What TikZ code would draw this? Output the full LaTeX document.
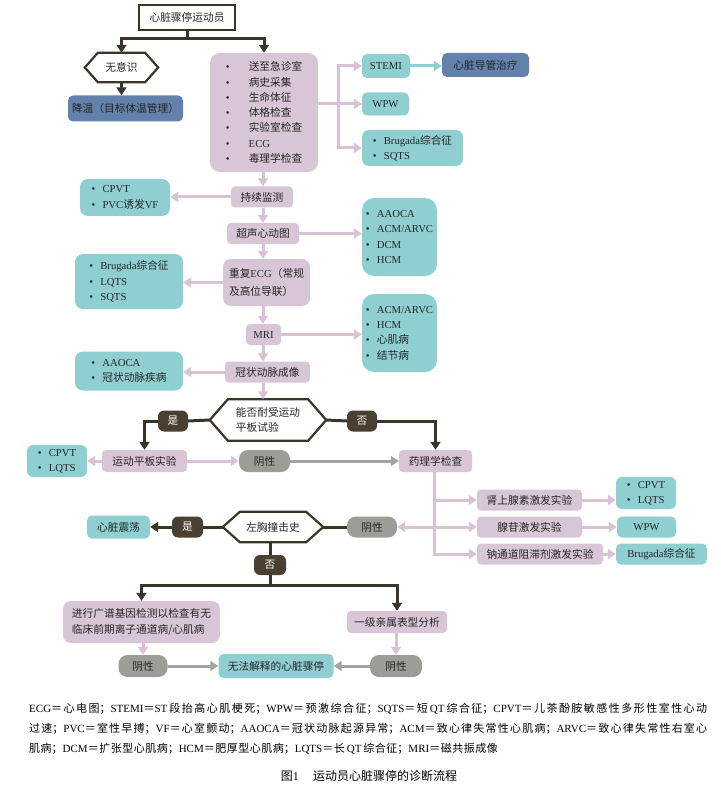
\documentclass[tikz,border=0pt]{standalone}
\usepackage{fontspec}
\newfontfamily\cjk{Noto Sans CJK SC}
\newfontfamily\ltnf{Liberation Serif}
\newcommand\ltn[1]{{\ltnf #1}}
\usetikzlibrary{arrows.meta,calc}
\XeTeXlinebreaklocale "zh"
\XeTeXlinebreakskip=0pt plus 1pt
\definecolor{cDark}{HTML}{3B3428}
\definecolor{cLab}{HTML}{4A4031}
\definecolor{cMauve}{HTML}{D8C6D6}
\definecolor{cMauveL}{HTML}{D9C1D6}
\definecolor{cTeal}{HTML}{8FCFD1}
\definecolor{cBlue}{HTML}{6282AB}
\definecolor{cGray}{HTML}{9D9D97}
\definecolor{cGrayL}{HTML}{A4A4A0}
\newcommand\blt{\makebox[11pt][l]{\ltnf\textbullet}}
\newcommand\bltw{\makebox[23pt][l]{\ltnf\textbullet}}
\newcommand\hexdraw[2]{\draw[hexline] (#1.west) -- ([xshift=#2]#1.north west) -- ([xshift=-#2]#1.north east) -- (#1.east) -- ([xshift=-#2]#1.south east) -- ([xshift=#2]#1.south west) -- cycle;}
\newcommand\legendsetup{\XeTeXlinebreakskip=0.5pt plus 4pt\relax}
\tikzset{
 base/.style={inner sep=0pt, align=center, font=\cjk\fontsize{10.7}{15.3}\selectfont, text=black!85},
 wh/.style 2 args={minimum width=#1pt, minimum height=#2pt},
 mbox/.style={base, fill=cMauve, rounded corners=4pt},
 tbox/.style={base, fill=cTeal, rounded corners=5pt},
 bbox/.style={base, fill=cBlue, rounded corners=5pt},
 gbox/.style={base, fill=cGray, rounded corners=9pt},
 labl/.style={base, fill=cLab, text=white, rounded corners=6pt},
 topbox/.style={base, fill=white, draw=cDark, line width=1.6pt},
 hexline/.style={draw=cDark, line width=2.2pt, line join=miter},
 dkl/.style={draw=cDark, line width=3pt},
 dka/.style={dkl, -{Triangle[width=10pt,length=8pt]}},
 mvl/.style={draw=cMauveL, line width=3pt},
 mva/.style={mvl, -{Triangle[width=10pt,length=8pt]}},
 gya/.style={draw=cGrayL, line width=3pt, -{Triangle[width=10pt,length=8pt]}},
 tla/.style={draw=cTeal, line width=3pt, -{Triangle[width=10pt,length=8pt]}},
}
\begin{document}
\begin{tikzpicture}[x=1pt,y=-1pt]
\fill[white] (0,0) rectangle (720,786);
\useasboundingbox (0,0) rectangle (720,786);

% ---------- nodes ----------
\node[topbox, wh={96}{25}] (top) at (187,17.5) {心脏骤停运动员};
\node[base, wh={73}{29}] (unc) at (121.5,67.5) {无意识};
\hexdraw{unc}{13pt}
\node[bbox, wh={115}{26}] (cool) at (125.5,108.5) {降温（目标体温管理）};
\node[mbox, rounded corners=10pt, wh={108}{119}, align=left] (big) at (264,112.5)
 {\bltw 送至急诊室\\\bltw 病史采集\\\bltw 生命体征\\\bltw 体格检查\\\bltw 实验室检查\\\bltw \ltn{ECG}\\\bltw 毒理学检查};
\node[tbox, wh={48}{24}] (stemi) at (386,66) {\ltn{STEMI}};
\node[bbox, wh={87}{24}] (cath) at (485.5,65) {心脏导管治疗};
\node[tbox, wh={47}{23}] (wpw) at (385.5,104) {\ltn{WPW}};
\node[tbox, rounded corners=7pt, wh={101}{36}, align=left] (bru1) at (412.5,148) {\blt\ltn{Brugada}综合征\\\blt\ltn{SQTS}};

\node[mbox, wh={62}{21}] (cont) at (262,197) {持续监测};
\node[tbox, rounded corners=8pt, wh={90}{37}, align=left] (cpvt1) at (125,197.5) {\blt\ltn{CPVT}\\\blt\ltn{PVC}诱发\ltn{VF}};
\node[mbox, wh={72}{21}] (echo) at (263,233.5) {超声心动图};
\node[tbox, rounded corners=12pt, wh={75}{78}, align=left] (aaoca1) at (399.5,237) {\blt\ltn{AAOCA}\\\blt\ltn{ACM/ARVC}\\\blt\ltn{DCM}\\\blt\ltn{HCM}};
\node[mbox, rounded corners=8pt, wh={87}{47}, align=left, font=\cjk\fontsize{10.7}{18}\selectfont] (ecg) at (266.5,282.5) {重复\ltn{ECG}（常规\\及高位导联）};
\node[tbox, rounded corners=8pt, wh={108}{55}, align=left] (bru2) at (129,281.5) {\blt\ltn{Brugada}综合征\\\blt\ltn{LQTS}\\\blt\ltn{SQTS}};
\node[mbox, wh={35}{21}] (mri) at (263.5,334.5) {\ltn{MRI}};
\node[tbox, rounded corners=12pt, wh={75}{78}, align=left] (acm) at (399.5,333) {\blt\ltn{ACM/ARVC}\\\blt\ltn{HCM}\\\blt 心肌病\\\blt 结节病};
\node[mbox, wh={85}{21}] (cor) at (267.5,372) {冠状动脉成像};
\node[tbox, rounded corners=8pt, wh={108}{39}, align=left] (aaoca2) at (129,371) {\blt\ltn{AAOCA}\\\blt 冠状动脉疾病};

\node[base, wh={116}{41}, align=left, font=\cjk\fontsize{10.7}{15}\selectfont] (hexA) at (268,420) {能否耐受运动\\平板试验};
\hexdraw{hexA}{18pt}
\node[labl, wh={30}{21}] (yes1) at (173,421) {是};
\node[labl, wh={30}{21}] (no1) at (362,421) {否};
\node[mbox, wh={85}{22}] (tread) at (144.5,461) {运动平板实验};
\node[tbox, rounded corners=6pt, wh={60}{32}, align=left] (cpvt3) at (57,461) {\blt\ltn{CPVT}\\\blt\ltn{LQTS}};
\node[gbox, wh={51}{22}] (neg1) at (264.5,461) {阴性};
\node[mbox, wh={73}{22}] (pharm) at (435.5,461) {药理学检查};
\node[mbox, wh={105}{21}] (epi) at (529.5,500) {肾上腺素激发实验};
\node[mbox, wh={105}{21}] (ade) at (529.5,527) {腺苷激发实验};
\node[mbox, wh={126}{21}] (sod) at (540,554) {钠通道阻滞剂激发实验};
\node[tbox, rounded corners=6pt, wh={60}{32}, align=left] (cpvt4) at (646,493) {\blt\ltn{CPVT}\\\blt\ltn{LQTS}};
\node[tbox, wh={59}{21}] (wpw2) at (646.5,527) {\ltn{WPW}};
\node[tbox, wh={91}{21}] (bru3) at (661.5,554) {\ltn{Brugada}综合征};

\node[gbox, wh={50}{21}] (neg2) at (372,527) {阴性};
\node[base, wh={100}{30}] (hexB) at (273,527) {左胸撞击史};
\hexdraw{hexB}{17pt}
\node[labl, wh={31}{21}] (yes2) at (187.5,527) {是};
\node[tbox, wh={63}{23}] (shock) at (118.5,527) {心脏震荡};
\node[labl, wh={32}{20}] (no2) at (270,565) {否};
\node[mbox, rounded corners=8pt, wh={157}{42}, align=left, font=\cjk\fontsize{10.7}{16}\selectfont] (gene) at (141.5,622) {进行广谱基因检测以检查有无\\临床前期离子通道病/心肌病};
\node[mbox, wh={100}{22}] (fam) at (397,622) {一级亲属表型分析};
\node[gbox, wh={49}{22}] (neg3) at (143,666) {阴性};
\node[gbox, wh={52}{22}] (neg4) at (396,666) {阴性};
\node[tbox, wh={115}{24}] (unexp) at (276,666) {无法解释的心脏骤停};

% ---------- connectors ----------
\coordinate (j1) at (187,39);
\draw[dkl] (top.south) -- (j1);
\draw[dka] (j1) -| (unc.north);
\draw[dka] (j1) -| (big.north);
\draw[dka] (unc.south) -- (unc.south |- cool.north);

\coordinate (j2) at (338,104);
\draw[mvl] (big.east |- j2) -- (j2);
\draw[mva] (j2) |- (stemi.west);
\draw[mva] (j2) -- (wpw.west |- j2);
\draw[mva] (j2) |- (bru1.west);
\draw[tla] (stemi.east) -- (cath.west |- stemi.east);

\coordinate (ax) at (263,0);
\draw[mva] (big.south -| ax) -- (cont.north -| ax);
\draw[mva] (cont.south -| ax) -- (echo.north -| ax);
\draw[mva] (echo.south -| ax) -- (ecg.north -| ax);
\draw[mva] (ecg.south -| ax) -- (mri.north -| ax);
\draw[mva] (mri.south -| ax) -- (cor.north -| ax);
\draw[mva] (cor.south -| ax) -- (hexA.north -| ax);
\draw[mva] (cont.west) -- (cpvt1.east |- cont.west);
\draw[mva] (echo.east) -- (aaoca1.west |- echo.east);
\draw[mva] (ecg.west) -- (bru2.east |- ecg.west);
\draw[mva] (mri.east) -- (acm.west |- mri.east);
\draw[mva] (cor.west) -- (aaoca2.east |- cor.west);

\draw[dkl] (hexA.west) -- (yes1.east);
\draw[dka] (yes1.west) -| (tread.north);
\draw[dkl] (hexA.east) -- (no1.west);
\draw[dka] (no1.east) -| (pharm.north);

\draw[mva] (tread.west) -- (cpvt3.east |- tread.west);
\draw[mva] (tread.east) -- (neg1.west);
\draw[gya] (neg1.east) -- (pharm.west);

\coordinate (pb) at (434,0);
\draw[mva] (pharm.south -| pb) |- (sod.west);
\draw[mva] (pb |- epi.west) -- (epi.west);
\draw[mva] (pb |- ade.west) -- (ade.west);
\draw[mva] (pb |- ade.west) -- (neg2.east);
\draw[mva] (epi.east) -- (cpvt4.west |- epi.east);
\draw[mva] (ade.east) -- (wpw2.west);
\draw[mva] (sod.east) -- (bru3.west);

\draw[dkl] (neg2.west) -- (hexB.east);
\draw[dkl] (hexB.west) -- (yes2.east);
\draw[dka] (yes2.west) -- (shock.east);
\coordinate (j3) at (270,585);
\draw[dkl] (hexB.south -| j3) -- (no2.north);
\draw[dkl] (no2.south) -- (j3);
\draw[dka] (j3) -| (gene.north);
\draw[dka] (j3) -| (fam.north);

\draw[mva] (gene.south -| neg3) -- (neg3.north);
\draw[mva] (fam.south -| neg4) -- (neg4.north);
\draw[gya] (neg3.east) -- (unexp.west);
\draw[gya] (neg4.west) -- (unexp.east);

% ---------- legend ----------
\node[anchor=north west, inner sep=0pt, text width=678pt, align=justify,
      font=\cjk\fontsize{11}{20}\selectfont] (legend) at (29,702.5)
{\legendsetup\noindent\ltn{ECG}＝心电图；\ltn{STEMI}＝\ltn{ST}\kern2pt 段抬高心肌梗死；\ltn{WPW}＝预激综合征；\ltn{SQTS}＝短\kern2pt\ltn{QT}\kern2pt 综合征；\ltn{CPVT}＝儿茶酚胺敏感性多形性室性心动\linebreak
过速；\ltn{PVC}＝室性早搏；\ltn{VF}＝心室颤动；\ltn{AAOCA}＝冠状动脉起源异常；\ltn{ACM}＝致心律失常性心肌病；\ltn{ARVC}＝致心律失常性右室心\linebreak
肌病；\ltn{DCM}＝扩张型心肌病；\ltn{HCM}＝肥厚型心肌病；\ltn{LQTS}＝长\kern2pt\ltn{QT}\kern2pt 综合征；\ltn{MRI}＝磁共振成像};
\node[inner sep=0pt, font=\cjk\fontsize{12}{14}\selectfont] (cap) at (369,776) {图\ltn{1}\hspace{1.2em}运动员心脏骤停的诊断流程};
\end{tikzpicture}
\end{document}
